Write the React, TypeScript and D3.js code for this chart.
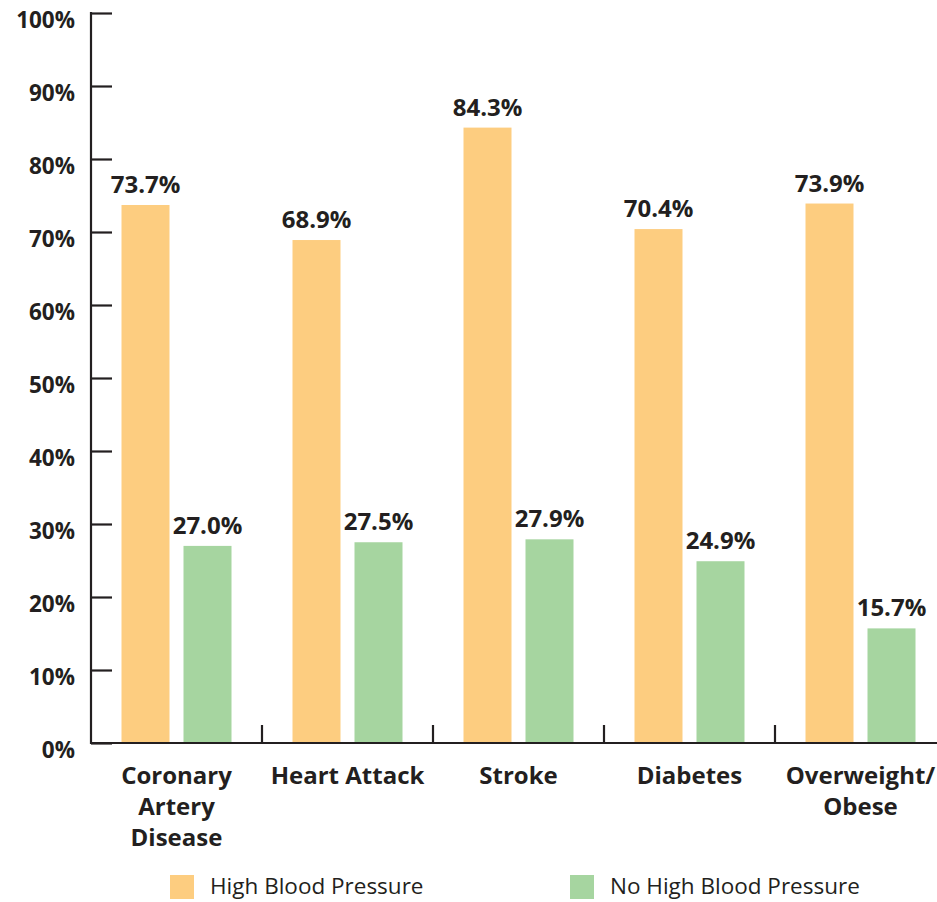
import React, { useRef, useEffect } from 'react';
import * as d3 from 'd3';

const categories = ['Coronary Artery Disease', 'Heart Attack', 'Stroke', 'Diabetes', 'Overweight/ Obese'];
const categoryLines = [['Coronary', 'Artery', 'Disease'], ['Heart Attack'], ['Stroke'], ['Diabetes'], ['Overweight/', 'Obese']];
const highBP = [73.7, 68.9, 84.3, 70.4, 73.9];
const noHighBP = [27.0, 27.5, 27.9, 24.9, 15.7];
const seriesNames = ['High Blood Pressure', 'No High Blood Pressure'];
const yTicks = [0, 10, 20, 30, 40, 50, 60, 70, 80, 90, 100];

const colors = ['#FDCD80', '#A6D5A0'];
const ink = '#231F20';
const font = '"Open Sans", "Noto Sans", sans-serif';

const App = () => {
  const ref = useRef<SVGSVGElement>(null);

  useEffect(() => {
    document.body.style.margin = '0';
    const svg = d3.select(ref.current);
    svg.selectAll('*').remove();

    const axisX = 91;
    const axisY = 743;

    const y = d3.scaleLinear().domain([0, 100]).range([axisY, 13]);
    const x = d3.scaleBand().domain(categories).range([axisX, 946]).paddingInner(0);
    const barW = 48;
    const gap = 14;
    const pairW = barW * 2 + gap;

    // y axis
    const yAxis = d3.axisLeft(y).tickValues(yTicks).tickSize(-21).tickPadding(16)
      .tickFormat((d) => d + '%');
    const gy = svg.append('g').attr('transform', `translate(${axisX},0)`).call(yAxis);
    gy.select('.domain').remove();
    gy.selectAll('line').attr('stroke', ink).attr('stroke-width', 2.2);
    gy.selectAll('text')
      .attr('dy', '0.63em')
      .attr('fill', ink)
      .style('font-family', font)
      .style('font-weight', 700)
      .style('font-size', '22.5px');
    svg.append('line')
      .attr('x1', axisX).attr('x2', axisX)
      .attr('y1', y(100) - 1).attr('y2', axisY + 1)
      .attr('stroke', ink).attr('stroke-width', 2.2);

    // bars
    const groups = svg.append('g').selectAll('g').data(categories).enter().append('g')
      .attr('transform', (d) => `translate(${(x(d) as number) + (x.bandwidth() - pairW) / 2},0)`);

    [highBP, noHighBP].forEach((vals, s) => {
      groups.append('rect')
        .attr('x', s * (barW + gap))
        .attr('width', barW)
        .attr('y', (d, i) => y(vals[i]))
        .attr('height', (d, i) => axisY - y(vals[i]))
        .attr('fill', colors[s]);
      groups.append('text')
        .attr('x', s * (barW + gap) + barW / 2)
        .attr('y', (d, i) => y(vals[i]) - 12)
        .attr('text-anchor', 'middle')
        .attr('fill', ink)
        .style('font-family', font)
        .style('font-weight', 700)
        .style('font-size', '24px')
        .text((d, i) => vals[i].toFixed(1) + '%');
    });

    // x axis
    svg.append('line')
      .attr('x1', axisX).attr('x2', 937)
      .attr('y1', axisY).attr('y2', axisY)
      .attr('stroke', ink).attr('stroke-width', 2.2);
    categories.slice(1).forEach((c) => {
      svg.append('line')
        .attr('x1', x(c) as number).attr('x2', x(c) as number)
        .attr('y1', axisY).attr('y2', axisY - 18)
        .attr('stroke', ink).attr('stroke-width', 2.2);
    });

    // category labels
    groups.append('text')
      .attr('text-anchor', 'middle')
      .attr('fill', ink)
      .style('font-family', font)
      .style('font-weight', 700)
      .style('font-size', '24px')
      .selectAll('tspan')
      .data((d, i) => categoryLines[i])
      .enter().append('tspan')
      .attr('x', pairW / 2)
      .attr('y', (d, j) => 784 + j * 31)
      .text((d) => d);

    // legend
    const legendX = [170, 570];
    seriesNames.forEach((name, s) => {
      svg.append('rect')
        .attr('x', legendX[s]).attr('y', 875)
        .attr('width', 24).attr('height', 24)
        .attr('fill', colors[s]);
      svg.append('text')
        .attr('x', legendX[s] + 40).attr('y', 894)
        .attr('fill', ink)
        .style('font-family', font)
        .style('font-size', '22.5px')
        .text(name);
    });
  }, []);

  return <svg ref={ref} width={937} height={902} style={{ display: 'block', background: '#fff' }} />;
};

export default App;
